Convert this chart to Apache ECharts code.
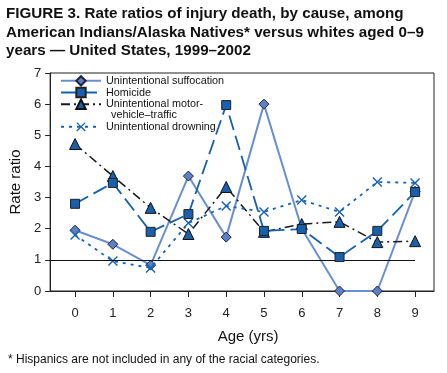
<!DOCTYPE html>
<html>
<head>
<meta charset="utf-8">
<script src="https://cdn.jsdelivr.net/npm/echarts@6/dist/echarts.min.js"></script>
<style>
  html, body { margin: 0; padding: 0; background: #fff; }
  #chart { width: 447px; height: 373px; }
</style>
</head>
<body>
<div id="chart"></div>
<script>
const ages = [0, 1, 2, 3, 4, 5, 6, 7, 8, 9]
const suffocation = [1.95, 1.5, 0.83, 3.69, 1.73, 6.0, 2.0, 0, 0, 3.2]
const homicide = [2.8, 3.47, 1.9, 2.47, 5.97, 1.93, 1.99, 1.09, 1.93, 3.18]
const motorVehicle = [4.72, 3.69, 2.67, 1.83, 3.34, 1.9, 2.15, 2.22, 1.57, 1.6]
const drowning = [1.8, 0.96, 0.74, 2.18, 2.73, 2.54, 2.92, 2.54, 3.5, 3.47]
const yTicks = [0, 1, 2, 3, 4, 5, 6, 7]

const FONT = '"Liberation Sans", Arial, Helvetica, sans-serif'
const xMarkPath = 'path://M1,0L5,4L9,0L10,1L6,5L10,9L9,10L5,6L1,10L0,9L4,5L0,1Z'

const pairs = arr => ages.map((a, i) => [a, arr[i]])

const option = {
  animation: false,
  textStyle: { fontFamily: FONT },
  title: {
    text: 'FIGURE 3. Rate ratios of injury death, by cause, among\nAmerican Indians/Alaska Natives* versus whites aged 0–9\nyears — United States, 1999–2002',
    left: 6,
    top: 5,
    padding: 0,
    textStyle: { fontFamily: FONT, fontSize: 15.2, fontWeight: 'bold', color: '#111', lineHeight: 18.5 }
  },
  graphic: [
    {
      type: 'text', left: 8, top: 354,
      style: { text: '* Hispanics are not included in any of the racial categories.', font: '12px ' + FONT, fill: '#111' }
    },
    {
      type: 'text', left: 111, top: 110,
      style: { text: 'vehicle–traffic', font: '10.8px ' + FONT, fill: '#111' }
    }
  ],
  legend: [
    {
      left: 60, top: 75, orient: 'vertical', itemGap: 0, itemWidth: 40, itemHeight: 11.7, padding: 0,
      textStyle: { fontSize: 10.8, color: '#111', lineHeight: 11.7 },
      data: ['Unintentional suffocation', 'Homicide', 'Unintentional motor-']
    },
    {
      left: 60, top: 121, orient: 'vertical', itemWidth: 40, itemHeight: 11.7, padding: 0,
      textStyle: { fontSize: 10.8, color: '#111', lineHeight: 11.7 },
      data: ['Unintentional drowning']
    }
  ],
  grid: {
    left: 48, top: 73, right: 13, bottom: 82,
    show: true, borderColor: '#222', borderWidth: 1, backgroundColor: '#fff'
  },
  xAxis: {
    type: 'value', min: -0.66, max: 9.5,
    name: 'Age (yrs)', nameLocation: 'middle', nameGap: 38,
    nameTextStyle: { fontSize: 15, color: '#111', padding: [0, 0, 0, 12] },
    axisLine: { lineStyle: { color: '#222' } },
    axisTick: { length: 6, customValues: ages, lineStyle: { color: '#222' } },
    axisLabel: { customValues: ages, fontSize: 13, color: '#222', margin: 16 },
    splitLine: { show: false }
  },
  yAxis: {
    type: 'value', min: 0, max: 7, interval: 1,
    name: 'Rate ratio', nameLocation: 'middle', nameGap: 27,
    nameTextStyle: { fontSize: 15, color: '#111' },
    axisLine: { show: true, onZero: false, lineStyle: { color: '#222' } },
    axisTick: { show: true, length: 5, lineStyle: { color: '#222' } },
    axisLabel: { fontSize: 13, color: '#222', margin: 9, formatter: v => yTicks.includes(v) ? v : '' },
    splitLine: { show: false }
  },
  series: [
    {
      name: 'Unintentional suffocation', type: 'line', z: 2,
      data: pairs(suffocation),
      symbol: 'diamond', symbolSize: 10,
      lineStyle: { color: '#6a8fd0', width: 2 },
      itemStyle: { color: '#5b80c6', borderColor: '#223', borderWidth: 1 },
      markLine: {
        silent: true, symbol: 'none', label: { show: false },
        lineStyle: { color: '#111', width: 1, type: 'solid' },
        data: [[{ coord: [-0.66, 1] }, { coord: [9, 1] }]]
      }
    },
    {
      name: 'Unintentional motor-', type: 'line', z: 3,
      data: pairs(motorVehicle),
      symbol: 'triangle', symbolSize: 11,
      lineStyle: { color: '#1a1a1a', width: 1.5, type: [9, 4, 2, 4] },
      itemStyle: { color: '#1a5fa8', borderColor: '#111', borderWidth: 1 }
    },
    {
      name: 'Unintentional drowning', type: 'line', z: 4,
      data: pairs(drowning),
      symbol: xMarkPath, symbolSize: 10,
      lineStyle: { color: '#1763b3', width: 1.8, type: [3, 5] },
      itemStyle: { color: '#1763b3' }
    },
    {
      name: 'Homicide', type: 'line', z: 5,
      data: pairs(homicide),
      symbol: 'rect', symbolSize: 9,
      lineStyle: { color: '#1660ad', width: 1.8, type: [15, 6] },
      itemStyle: { color: '#1660ad', borderColor: '#222', borderWidth: 1 }
    }
  ]
}

const myChart = echarts.init(document.getElementById('chart'))
myChart.setOption(option)
</script>
</body>
</html>
